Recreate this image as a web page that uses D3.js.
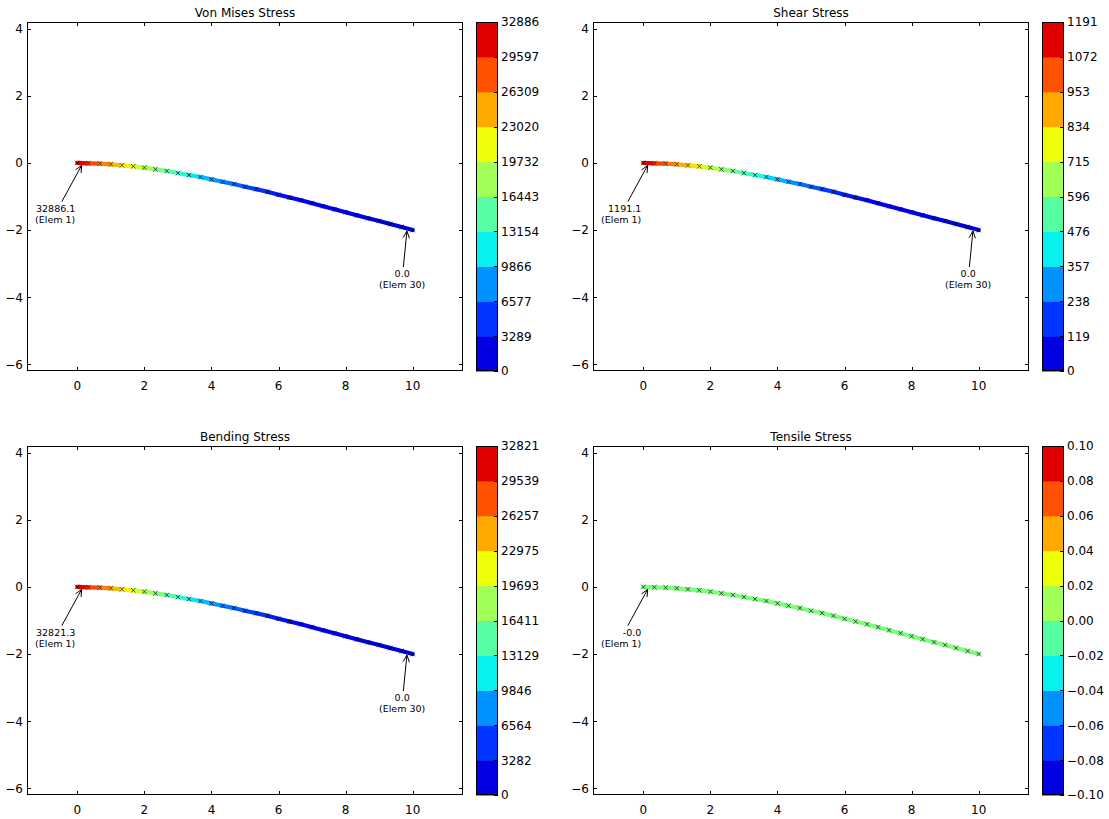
<!DOCTYPE html>
<html><head><meta charset="utf-8">
<script src="https://cdn.jsdelivr.net/npm/d3@7"></script>
<style>body{margin:0;background:#fff} text{font-family:"DejaVu Sans",sans-serif;fill:#000}</style>
</head><body><svg id="c" width="1109" height="819"></svg>
<script>
const titles = ["Von Mises Stress", "Shear Stress", "Bending Stress", "Tensile Stress"];
const nodeX = [0, 0.33, 0.67, 1, 1.33, 1.67, 2, 2.33, 2.67, 3, 3.33, 3.67, 4, 4.33, 4.67, 5,
  5.33, 5.67, 6, 6.33, 6.67, 7, 7.33, 7.67, 8, 8.33, 8.67, 9, 9.33, 9.67, 10];
const nodeY = [0, -0.01, -0.02, -0.04, -0.07, -0.10, -0.14, -0.19, -0.24, -0.30, -0.36, -0.42,
  -0.49, -0.56, -0.63, -0.71, -0.78, -0.86, -0.95, -1.03, -1.11, -1.20, -1.29, -1.38, -1.47,
  -1.56, -1.65, -1.73, -1.82, -1.91, -2.00];
const vonMises = [32886.1, 29597, 27295, 24993, 22691, 20389, 18087, 16114, 14141, 12168, 10524,
  8879, 7564, 6248, 5262, 4275, 3453, 2795, 2170, 1644, 1250, 921, 658, 460, 296, 197, 99, 49, 16, 0.0];
const shear = [1191.1, 1083.9, 1000.5, 917.1, 845.7, 762.3, 690.8, 619.4, 547.9, 476.4, 416.9,
  357.3, 309.7, 262.0, 214.4, 178.7, 142.9, 113.2, 89.3, 67.9, 50.0, 35.7, 25.0, 16.7, 10.7, 6.0,
  3.6, 1.8, 0.6, 0.0];
const bending = [32821.3, 29539, 27242, 24944, 22647, 20349, 18052, 16082, 14113, 12144, 10503,
  8862, 7549, 6236, 5251, 4267, 3446, 2790, 2166, 1641, 1247, 919, 656, 460, 295, 197, 98, 49, 16, 0.0];
const tensile = [-0.0, 0, 0, 0, 0, 0, 0, 0, 0, 0, 0, 0, 0, 0, 0, 0, 0, 0, 0, 0, 0, 0, 0, 0, 0, 0, 0, 0, 0, 0];
const cbarDomains = [[0, 32886.1], [0, 1191.1], [0, 32821.3], [-0.1, 0.1]];
const cbarTicksVM = ["0", "3289", "6577", "9866", "13154", "16443", "19732", "23020", "26309", "29597", "32886"];
const cbarTicksSh = ["0", "119", "238", "357", "476", "596", "715", "834", "953", "1072", "1191"];
const cbarTicksBe = ["0", "3282", "6564", "9846", "13129", "16411", "19693", "22975", "26257", "29539", "32821"];
const cbarTicksTe = ["\u22120.10", "\u22120.08", "\u22120.06", "\u22120.04", "\u22120.02", "0.00", "0.02", "0.04", "0.06", "0.08", "0.10"];
const startLabels = ["32886.1", "1191.1", "32821.3", "-0.0"];
const endLabels = ["0.0", "0.0", "0.0", null];
const xTicks = [0, 2, 4, 6, 8, 10];
const yTicks = [4, 2, 0, -2, -4, -6];

const seriesList = [vonMises, shear, bending, tensile];
const cbarTickList = [cbarTicksVM, cbarTicksSh, cbarTicksBe, cbarTicksTe];

function segInterp(pts, t) {
  for (let i = 0; i < pts.length - 1; i++) {
    if (t <= pts[i + 1][0]) {
      const [x0, y0] = pts[i], [x1, y1] = pts[i + 1];
      return y0 + (y1 - y0) * (t - x0) / (x1 - x0);
    }
  }
  return pts[pts.length - 1][1];
}
const JR = [[0, 0], [0.35, 0], [0.66, 1], [0.89, 1], [1, 0.5]];
const JG = [[0, 0], [0.125, 0], [0.375, 1], [0.64, 1], [0.91, 0], [1, 0]];
const JB = [[0, 0.5], [0.11, 1], [0.34, 1], [0.65, 0], [1, 0]];
function jet(t) {
  t = Math.max(0, Math.min(1, t));
  return d3.rgb(segInterp(JR, t) * 255, segInterp(JG, t) * 255, segInterp(JB, t) * 255).toString();
}
// colour position within the jet map used by the plot (1/12 .. 11/12)
const cmapPos = d3.scaleLinear().domain([0, 1]).range([1 / 12, 11 / 12]);

const svg = d3.select("#c");
const W = 436, H = 349;
const lefts = [27, 593], tops = [22, 446];

seriesList.forEach((vals, k) => {
  const L = lefts[k % 2], T = tops[Math.floor(k / 2)];
  const x = d3.scaleLinear().domain([-1.5, 11.5]).range([L, L + W]);
  const y = d3.scaleLinear().domain([-6.2, 4.2]).range([T + H, T]);
  const g = svg.append("g");
  // title
  g.append("text").attr("x", L + W / 2).attr("y", T - 5).attr("text-anchor", "middle")
    .attr("font-size", 12).text(titles[k]);
  // ticks
  xTicks.forEach(t => {
    const px = Math.round(x(t)) + 0.5;
    g.append("line").attr("x1", px).attr("x2", px).attr("y1", T + H).attr("y2", T + H - 4).attr("stroke", "#000");
    g.append("line").attr("x1", px).attr("x2", px).attr("y1", T).attr("y2", T + 4).attr("stroke", "#000");
    g.append("text").attr("x", x(t)).attr("y", T + H + 18.5).attr("text-anchor", "middle")
      .attr("font-size", 12).text(String(t));
  });
  yTicks.forEach(t => {
    const py = Math.round(y(t)) + 0.5;
    g.append("line").attr("x1", L).attr("x2", L + 4).attr("y1", py).attr("y2", py).attr("stroke", "#000");
    g.append("line").attr("x1", L + W).attr("x2", L + W - 4).attr("y1", py).attr("y2", py).attr("stroke", "#000");
    g.append("text").attr("x", L - 4).attr("y", y(t) + 4.4).attr("text-anchor", "end")
      .attr("font-size", 12).text(String(t).replace("-", "\u2212"));
  });
  // beam segments coloured by stress
  const dom = cbarDomains[k];
  const norm = d3.scaleLinear().domain(dom).range([0, 1]);
  const segs = vals.map((v, i) => ({ v, i }));
  g.selectAll("line.seg").data(segs).enter().append("line").attr("class", "seg")
    .attr("x1", d => x(nodeX[d.i])).attr("y1", d => y(nodeY[d.i]))
    .attr("x2", d => x(nodeX[d.i + 1])).attr("y2", d => y(nodeY[d.i + 1]))
    .attr("stroke", d => jet(cmapPos(norm(d.v)))).attr("stroke-width", 4.2)
    .attr("stroke-linecap", "round");
  // node markers
  g.selectAll("path.mk").data(nodeX).enter().append("path").attr("class", "mk")
    .attr("transform", (d, i) => `translate(${x(d)},${y(nodeY[i])})`)
    .attr("d", "M-2.3,-2.3L2.3,2.3M-2.3,2.3L2.3,-2.3")
    .attr("stroke", "#111").attr("stroke-width", 0.8).attr("fill", "none").attr("opacity", 0.85);
  // frame
  g.append("rect").attr("x", L + 0.5).attr("y", T + 0.5).attr("width", W - 1).attr("height", H - 1)
    .attr("fill", "none").attr("stroke", "#000");

  // annotations
  function annotate(elemIdx, label, anchor, dx) {
    const P = [x((nodeX[elemIdx] + nodeX[elemIdx + 1]) / 2), y((nodeY[elemIdx] + nodeY[elemIdx + 1]) / 2)];
    const tg = g.append("g");
    const t = tg.append("text").attr("font-size", 9.5).attr("text-anchor", anchor);
    const tx = P[0] + dx, ty = P[1] + 48.5;
    t.append("tspan").attr("x", tx).attr("y", ty).text(label);
    t.append("tspan").attr("x", tx).attr("y", ty + 11.3).text(`(Elem ${elemIdx + 1})`);
    const bb = t.node().getBBox();
    const cx = bb.x + bb.width / 2, cy = bb.y + bb.height / 2;
    const topY = bb.y - 1;
    const f = (cy - topY) / (cy - P[1]);
    const tail = [cx + (P[0] - cx) * f, topY];
    const ang = Math.atan2(P[1] - tail[1], P[0] - tail[0]);
    const tip = [P[0] - 2.5 * Math.cos(ang), P[1] - 2.5 * Math.sin(ang)];
    tg.append("line").attr("x1", tail[0]).attr("y1", tail[1]).attr("x2", tip[0]).attr("y2", tip[1])
      .attr("stroke", "#000").attr("stroke-width", 1);
    const hl = 7, hw = 3.2;
    const bx = tip[0] - hl * Math.cos(ang), by = tip[1] - hl * Math.sin(ang);
    const nx = -Math.sin(ang), ny = Math.cos(ang);
    tg.append("path").attr("d", `M${bx + nx * hw},${by + ny * hw}L${tip[0]},${tip[1]}L${bx - nx * hw},${by - ny * hw}`)
      .attr("fill", "none").attr("stroke", "#000").attr("stroke-width", 1);
  }
  annotate(0, startLabels[k], "end", -7.5);
  if (endLabels[k] !== null) annotate(29, endLabels[k], "middle", -5);

  // colorbar
  const cbx = L + 449, cbw = 22;
  const cy = d3.scaleLinear().domain(dom).range([T + H, T]);
  const nb = 10;
  const bands = d3.range(nb);
  g.selectAll("rect.band").data(bands).enter().append("rect").attr("class", "band")
    .attr("x", cbx).attr("width", cbw)
    .attr("y", i => T + H - (i + 1) * H / nb).attr("height", H / nb + 0.5)
    .attr("fill", i => jet(cmapPos(i / (nb - 1))));
  g.append("rect").attr("x", cbx + 0.5).attr("y", T + 0.5).attr("width", cbw - 1).attr("height", H - 1)
    .attr("fill", "none").attr("stroke", "#000");
  const tks = cbarTickList[k];
  tks.forEach((lab, i) => {
    const v = dom[0] + (dom[1] - dom[0]) * i / (tks.length - 1);
    const py = cy(v);
    g.append("line").attr("x1", cbx + cbw - 4).attr("x2", cbx + cbw).attr("y1", Math.round(py) + 0.5)
      .attr("y2", Math.round(py) + 0.5).attr("stroke", "#000");
    g.append("text").attr("x", cbx + cbw + 3).attr("y", py + 4.4).attr("font-size", 12).text(lab);
  });
});
</script></body></html>
